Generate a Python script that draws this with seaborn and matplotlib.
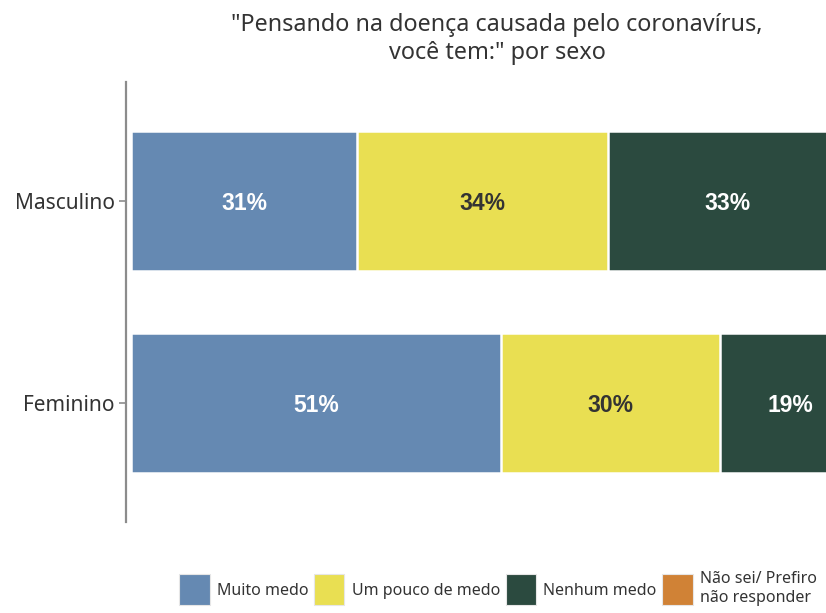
import matplotlib
matplotlib.use("Agg")
import matplotlib.pyplot as plt
import matplotlib.patches as mpatches
import numpy as np
import pandas as pd
import seaborn as sns

# dados (em %)
sexos = ["Masculino", "Feminino"]
respostas = ["Muito medo", "Um pouco de medo", "Nenhum medo", "Não sei/ Prefiro\nnão responder"]
muito_medo = [31.0, 50.8]
pouco_medo = [34.4, 30.0]
nenhum_medo = [32.8, 19.2]
nao_sei = [1.8, 0.0]

cores = ["#6589B2", "#E9DF52", "#2B4A3F", "#D08236"]
cor_texto = ["white", "#333333", "white", "white"]

valores = np.array([muito_medo, pouco_medo, nenhum_medo, nao_sei], dtype=float)
acumulado = valores.cumsum(axis=0)

sns.set_theme(style="white")
plt.rcParams["font.family"] = ["Noto Sans", "DejaVu Sans"]

fig = plt.figure(figsize=(8.26, 6.13), dpi=100)
ax = fig.add_axes([126 / 826, 91 / 613, 742 / 826, 440 / 613])

# empilhamento: desenha do maior acumulado para o menor
for i in range(len(respostas) - 1, -1, -1):
    df = pd.DataFrame({"sexo": sexos, "valor": acumulado[i]})
    sns.barplot(data=df, x="valor", y="sexo", order=sexos, orient="h",
                color=cores[i], saturation=1, width=0.69,
                edgecolor="white", linewidth=1.8, ax=ax)

# rotulos de porcentagem
for i in range(3):
    for j, s in enumerate(sexos):
        v = valores[i, j]
        if v <= 0:
            continue
        centro = acumulado[i, j] - v / 2
        ax.text(centro, j, f"{round(v):d}%", ha="center", va="center_baseline",
                color=cor_texto[i], fontsize=16.5, fontweight="bold",
                family="Liberation Sans")

ax.set_xlim(-0.69, 101.1)
ax.set_ylim(1.59, -0.59)
ax.set_xlabel("")
ax.set_ylabel("")
ax.set_xticks([])
for lado in ["top", "right", "bottom"]:
    ax.spines[lado].set_visible(False)
ax.spines["left"].set_color("#8c8c8c")
ax.spines["left"].set_linewidth(1.6)
ax.tick_params(axis="y", left=True, length=5, width=1.2, color="#8c8c8c",
               labelsize=15, labelcolor="#333333", pad=3)

fig.text(497 / 826, 1 - 13 / 613,
         "\"Pensando na doença causada pelo coronavírus,\nvocê tem:\" por sexo",
         ha="center", va="top", fontsize=16.8, color="#333333", linespacing=1.2)

handles = [mpatches.Patch(facecolor=c, edgecolor="#e6e6e6", linewidth=0.8) for c in cores]
fig.legend(handles, respostas, loc="lower left", bbox_to_anchor=(172 / 826, 0.0),
           ncol=4, frameon=False, fontsize=11.5, handlelength=1.9, handleheight=2.6,
           handletextpad=0.45, columnspacing=0.36, borderaxespad=0.05,
           labelcolor="#333333", labelspacing=0.2)

fig.savefig("out.png", dpi=100)
